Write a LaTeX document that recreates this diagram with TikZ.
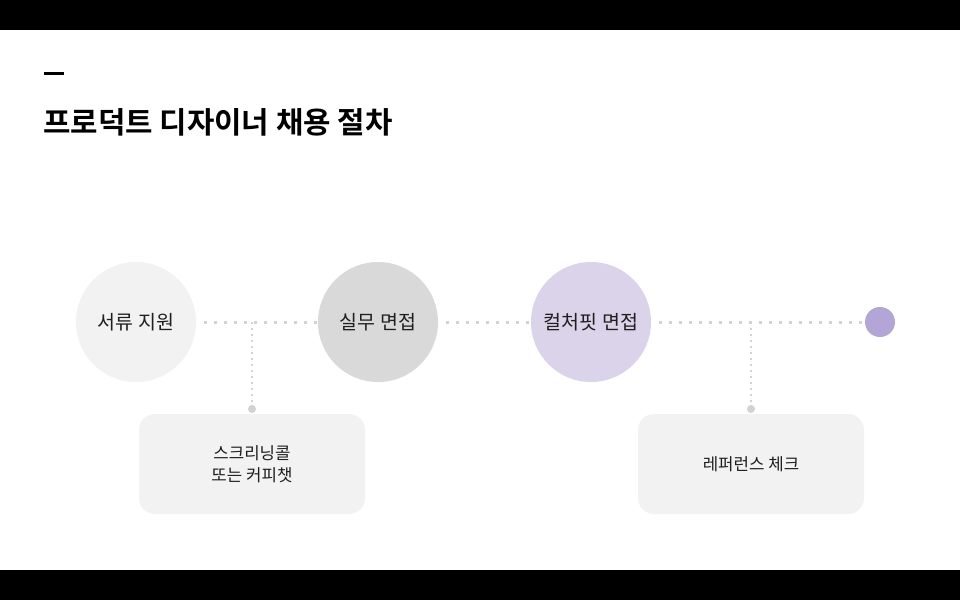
\documentclass[tikz,border=0pt]{standalone}
\usepackage{fontspec}
\newfontfamily\kr{Noto Sans CJK KR}
\newfontfamily\krb{Noto Sans CJK KR Bold}
\definecolor{cA}{HTML}{F2F2F2}
\definecolor{cB}{HTML}{D9D9D9}
\definecolor{cC}{HTML}{DAD3E9}
\definecolor{cD}{HTML}{B3A6D7}
\definecolor{dotc}{HTML}{D2D2D2}
\tikzset{
  stage/.style={circle, minimum size=120pt, inner sep=0pt, font=\kr\fontsize{19.5}{24}\selectfont, text=black!88},
  endpt/.style={circle, minimum size=30pt, inner sep=0pt, fill=cD},
  subbox/.style={rounded corners=16pt, fill=cA, minimum width=226pt, minimum height=100pt, inner sep=0pt, align=center, font=\kr\fontsize{16.8}{22}\selectfont, text=black!88},
  hdots/.style={draw=dotc, line width=3pt, dash pattern=on 3pt off 7pt},
  vdots/.style={draw=dotc, line width=1.6pt, dash pattern=on 1.6pt off 4.4pt},
  knob/.style={circle, fill=dotc, minimum size=8pt, inner sep=0pt}
}
\begin{document}
\begin{tikzpicture}[x=1pt,y=-1pt]
\useasboundingbox (0,0) rectangle (960,600);
\fill[black] (0,0) rectangle (960,30);
\fill[black] (0,570) rectangle (960,600);
\fill[white] (0,30) rectangle (960,570);
% header
\node[fill=black, minimum width=20pt, minimum height=3pt, inner sep=0pt] (bar) at (54,73) {};
\node[anchor=base west, inner sep=0pt, font=\krb\fontsize{29.8}{34}\selectfont] (title) at (43,133) {프로덕트 디자이너 채용 절차};
% stages
\node[stage, fill=cA] (c1) at (136,322) {서류 지원};
\node[stage, fill=cB] (c2) at (378,322) {실무 면접};
\node[stage, fill=cC] (c3) at (591,322) {컬처핏 면접};
\node[endpt] (c4) at (880,322) {};
% connectors
\draw[hdots] ([xshift=8pt]c1.east) -- (c2.west);
\draw[hdots] ([xshift=8pt]c2.east) -- (c3.west);
\draw[hdots] ([xshift=8pt]c3.east) -- (c4.west);
% sub boxes
\node[subbox] (b1) at (252,464) {스크리닝콜\\또는 커피챗};
\node[subbox] (b2) at (751,464) {레퍼런스 체크};
\coordinate (j1) at (252,322);
\coordinate (j2) at (751,322);
\node[knob] (k1) at (252,409) {};
\node[knob] (k2) at (751,409) {};
\draw[vdots] (j1) -- (k1);
\draw[vdots] (j2) -- (k2);
\end{tikzpicture}
\end{document}
